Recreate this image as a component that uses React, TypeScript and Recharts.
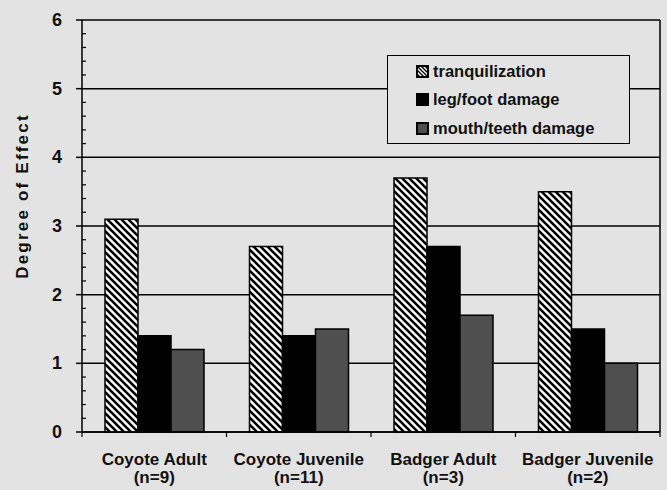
import React from 'react';
import {
  BarChart,
  Bar,
  XAxis,
  YAxis,
  CartesianGrid,
  Legend,
} from 'recharts';

// Categories and sample sizes
const categories = ['Coyote Adult', 'Coyote Juvenile', 'Badger Adult', 'Badger Juvenile'];
const sampleSizes = ['(n=9)', '(n=11)', '(n=3)', '(n=2)'];

// Series values
const tranquilization = [3.1, 2.7, 3.7, 3.5];
const legFootDamage = [1.4, 1.4, 2.7, 1.5];
const mouthTeethDamage = [1.2, 1.5, 1.7, 1.0];

const yTicks = [0, 1, 2, 3, 4, 5, 6];
const minorPerMajor = 5;

const seriesNames = ['tranquilization', 'leg/foot damage', 'mouth/teeth damage'];

const chartData = categories.map((name, i) => ({
  name,
  tranquilization: tranquilization[i],
  legFoot: legFootDamage[i],
  mouthTeeth: mouthTeethDamage[i],
}));

const FONT = '"Liberation Sans", Arial, sans-serif';
const PAPER = '#e3e3e3';
const Y_TICK_SIZE = 6;
const Y_TICK_MARGIN = 14;

// category label + boundary tick marks
const CategoryTick = (props: any) => {
  const { x, y, payload, index, width, visibleTicksCount } = props;
  const idx = categories.indexOf(payload.value);
  const band = width / visibleTicksCount;
  return (
    <g>
      <line x1={x - band / 2} x2={x - band / 2} y1={y} y2={y + 5} stroke="#000" strokeWidth={1.2} />
      {index === visibleTicksCount - 1 && (
        <line x1={x + band / 2} x2={x + band / 2} y1={y} y2={y + 5} stroke="#000" strokeWidth={1.2} />
      )}
      <text
        x={x}
        y={y}
        textAnchor="middle"
        fontFamily={FONT}
        fontWeight="bold"
        fontSize={17}
        fill="#111"
      >
        <tspan x={x} dy={33}>{payload.value}</tspan>
        <tspan x={x} dy={18}>{sampleSizes[idx]}</tspan>
      </text>
    </g>
  );
};

// value label + minor ticks (pointing into the plot) below each major tick
const ValueTick = (props: any) => {
  const { x, y, payload, height } = props;
  const axisX = x + Y_TICK_SIZE + Y_TICK_MARGIN;
  const step = height / (yTicks.length - 1) / minorPerMajor;
  const minors = payload.value > 0 ? [1, 2, 3, 4] : [];
  return (
    <g>
      {minors.map((k) => (
        <line
          key={k}
          x1={axisX}
          x2={axisX + 4}
          y1={y + k * step}
          y2={y + k * step}
          stroke="#000"
          strokeWidth={1.2}
        />
      ))}
      <text
        x={x}
        y={y}
        textAnchor="end"
        dominantBaseline="central"
        fontFamily={FONT}
        fontWeight="bold"
        fontSize={18}
        fill="#111"
      >
        {payload.value}
      </text>
    </g>
  );
};

const YLabel = (props: any) => {
  const { viewBox } = props;
  const cx = 22;
  const cy = viewBox.y + viewBox.height / 2 - 30;
  return (
    <text
      x={cx}
      y={cy}
      transform={`rotate(-90, ${cx}, ${cy})`}
      textAnchor="middle"
      dominantBaseline="central"
      fontFamily={FONT}
      fontWeight="bold"
      fontSize={17}
      letterSpacing={2.2}
      fill="#111"
    >
      Degree of Effect
    </text>
  );
};

const swatchFills = ['url(#stripesLegend)', '#000', '#4f4f4f'];

const LegendBox = () => (
  <div
    style={{
      border: '1.5px solid #000',
      background: PAPER,
      padding: '1px 0 1px 28px',
      fontFamily: FONT,
      fontWeight: 'bold',
      fontSize: 16.5,
      color: '#111',
      width: 243,
      height: 89,
      boxSizing: 'border-box',
    }}
  >
    {seriesNames.map((n, i) => (
      <div key={n} style={{ display: 'flex', alignItems: 'center', height: 28.5 }}>
        <svg width={13} height={13} style={{ marginRight: 4 }}>
          <defs>
            <pattern id="stripesLegend" width={4} height={4} patternUnits="userSpaceOnUse">
              <rect width={4} height={4} fill="#fff" />
              <path d="M0,0 L4,4 M-1,3 L1,5 M3,-1 L5,1" stroke="#000" strokeWidth={1.4} />
            </pattern>
          </defs>
          <rect x={1} y={1} width={11} height={11} fill={swatchFills[i]} stroke="#000" strokeWidth={2} />
        </svg>
        <span>{n}</span>
      </div>
    ))}
  </div>
);

export default function App() {
  return (
    <div
      style={{
        position: 'absolute',
        left: 0,
        top: 0,
        width: 667,
        height: 490,
        background: PAPER,
      }}
    >
      <BarChart
        width={667}
        height={490}
        data={chartData}
        margin={{ top: 20, right: 0, bottom: 0, left: 0 }}
        barGap={0}
        barSize={33}
      >
        <defs>
          <pattern id="stripes" width={7} height={7} patternUnits="userSpaceOnUse">
            <rect width={7} height={7} fill="#fff" />
            <path d="M0,0 L7,7 M-2,5 L2,9 M5,-2 L9,2" stroke="#000" strokeWidth={2.6} />
          </pattern>
        </defs>
        <CartesianGrid yAxisId="main" vertical={false} stroke="#000" strokeWidth={1.5} />
        <XAxis
          dataKey="name"
          axisLine={{ stroke: '#000', strokeWidth: 1.5 }}
          tickLine={false}
          tickSize={0}
          tickMargin={0}
          tick={<CategoryTick />}
          interval={0}
          height={58}
        />
        <YAxis
          yAxisId="main"
          domain={[0, 6]}
          ticks={yTicks}
          interval={0}
          width={82}
          axisLine={{ stroke: '#000', strokeWidth: 1.5 }}
          tickLine={{ stroke: '#000', strokeWidth: 1.5 }}
          tickSize={Y_TICK_SIZE}
          tickMargin={Y_TICK_MARGIN}
          tick={<ValueTick />}
          label={<YLabel />}
        />
        <YAxis
          yAxisId="right"
          orientation="right"
          domain={[0, 6]}
          width={7}
          tick={false}
          tickLine={false}
          axisLine={{ stroke: '#000', strokeWidth: 1.5 }}
        />
        <Legend
          verticalAlign="middle"
          align="center"
          layout="horizontal"
          content={<LegendBox />}
          wrapperStyle={{ top: 55, left: 387, width: 243 }}
        />
        <Bar
          yAxisId="main"
          dataKey="tranquilization"
          name={seriesNames[0]}
          fill="url(#stripes)"
          stroke="#000"
          strokeWidth={1.5}
          isAnimationActive={false}
        />
        <Bar
          yAxisId="main"
          dataKey="legFoot"
          name={seriesNames[1]}
          fill="#000"
          stroke="#000"
          strokeWidth={1.5}
          isAnimationActive={false}
        />
        <Bar
          yAxisId="main"
          dataKey="mouthTeeth"
          name={seriesNames[2]}
          fill="#4f4f4f"
          stroke="#000"
          strokeWidth={1.5}
          isAnimationActive={false}
        />
      </BarChart>
    </div>
  );
}
